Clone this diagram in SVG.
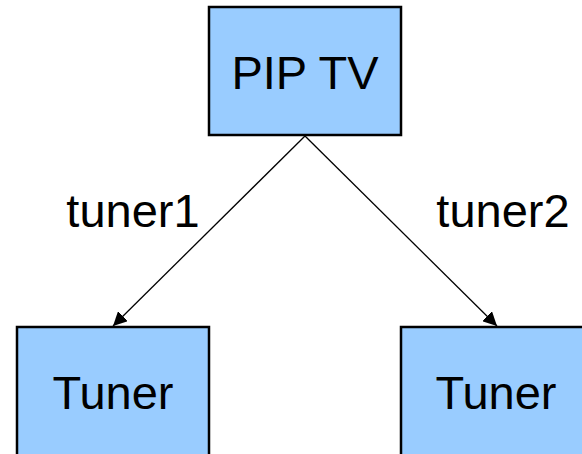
<svg xmlns="http://www.w3.org/2000/svg" width="582" height="454" viewBox="0 0 582 454">
<style>
.box{fill:#99ccff;stroke:#000;stroke-width:2.5}
.lbl{font-family:"Liberation Sans",Arial,sans-serif;font-size:47px;fill:#000;text-anchor:middle}
.elbl{font-family:"Liberation Sans",Arial,sans-serif;font-size:47px;fill:#000;text-anchor:middle}
.edge{stroke:#000;stroke-width:1.3;fill:none;marker-end:url(#arr)}
</style>
<defs>
<marker id="arr" viewBox="0 0 10 10" refX="10" refY="5" markerWidth="14" markerHeight="14" markerUnits="userSpaceOnUse" orient="auto">
<path d="M0,0 L10,5 L0,10 Z" fill="#000"/>
</marker>
</defs>
<rect width="582" height="454" fill="#fff"/>
<g id="edges">
<line class="edge" x1="305" y1="136" x2="113" y2="326"/>
<line class="edge" x1="305" y1="136" x2="497" y2="326"/>
<text class="elbl" x="133" y="227">tuner1</text>
<text class="elbl" x="503" y="227">tuner2</text>
</g>
<g id="pip">
<rect class="box" x="209" y="7" width="192" height="128"/>
<text class="lbl" x="305" y="89">PIP TV</text>
</g>
<g id="tuner-left">
<rect class="box" x="17" y="327" width="192" height="140"/>
<text class="lbl" x="113" y="409">Tuner</text>
</g>
<g id="tuner-right">
<rect class="box" x="401" y="327" width="192" height="140"/>
<text class="lbl" x="496" y="409">Tuner</text>
</g>
</svg>
